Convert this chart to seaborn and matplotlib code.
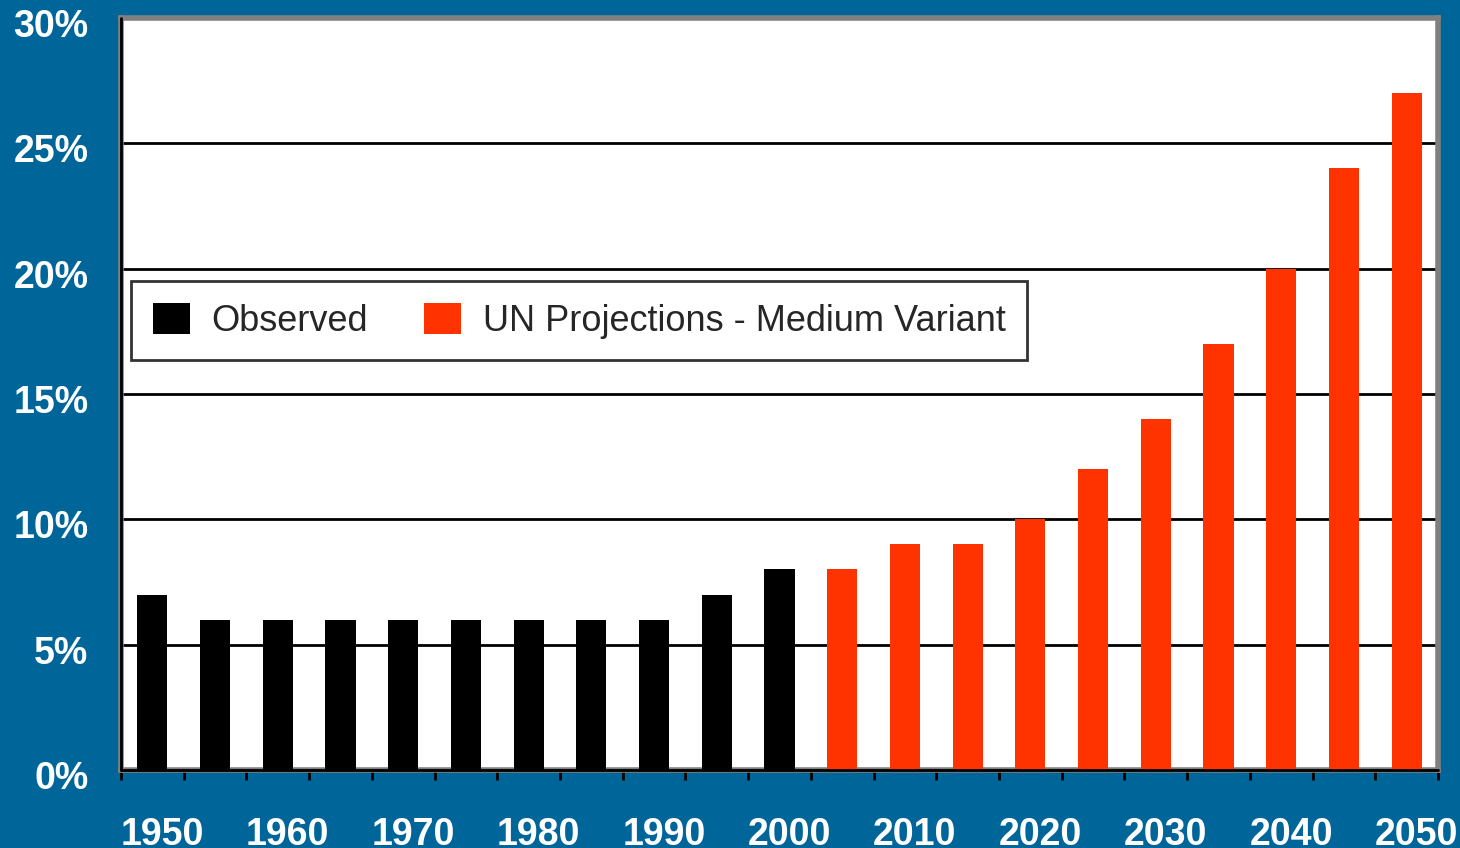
import matplotlib
matplotlib.use("Agg")
import matplotlib.pyplot as plt
import matplotlib.patches as mpatches
import matplotlib.transforms as mtrans
import seaborn as sns
import pandas as pd
import numpy as np

years = [1950, 1955, 1960, 1965, 1970, 1975, 1980, 1985, 1990, 1995, 2000,
         2005, 2010, 2015, 2020, 2025, 2030, 2035, 2040, 2045, 2050]
values = [7, 6, 6, 6, 6, 6, 6, 6, 6, 7, 8,
          8, 9, 9, 10, 12, 14, 17, 20, 24, 27]
series = ["Observed"] * 11 + ["UN Projections - Medium Variant"] * 10
series_names = ["Observed", "UN Projections - Medium Variant"]
series_colors = ["#000000", "#FF3300"]
ytick_vals = [0, 5, 10, 15, 20, 25, 30]
xtick_labels = ["1950", "1960", "1970", "1980", "1990", "2000",
                "2010", "2020", "2030", "2040", "2050"]

BG = "#006699"

sns.set_style("white")
plt.rcParams['font.family'] = ['Liberation Sans', 'DejaVu Sans']

df = pd.DataFrame({"year": [str(y) for y in years], "value": values, "series": series})

fig = plt.figure(figsize=(14.6, 8.48), dpi=100, facecolor=BG)
ax = fig.add_axes([121 / 1460, 1 - 770 / 848, (1438 - 121) / 1460, (770 - 18) / 848])
ax.set_facecolor("white")

sns.barplot(data=df, x="year", y="value", hue="series",
            palette=dict(zip(series_names, series_colors)),
            dodge=False, width=0.48, ax=ax, legend=False, zorder=3,
            saturation=1, edgecolor="none", linewidth=0)

ax.set_xlim(-0.5, len(years) - 0.5)
ax.set_ylim(0, 30)
ax.set_xlabel("")
ax.set_ylabel("")

# grid
ax.set_yticks(ytick_vals)
ax.set_yticklabels([f"{v}%" for v in ytick_vals])
for v in ytick_vals[1:-1]:
    ax.axhline(v, color="black", lw=2, zorder=1)

# x ticks: labels every 10 years, tick marks at boundaries
ax.set_xticks([i for i, y in enumerate(years) if y % 10 == 0])
ax.set_xticklabels(xtick_labels)
ax.set_xticks(np.arange(-0.5, len(years), 1.0), minor=True)
ax.tick_params(axis="x", which="major", length=0, pad=34, colors="white",
               labelsize=27)
ax.tick_params(axis="x", which="minor", length=7.5, width=2, color="black",
               direction="out", bottom=True)
for lbl in ax.get_xticklabels():
    lbl.set_fontweight("bold")
    lbl.set_transform(lbl.get_transform() +
                      mtrans.ScaledTranslation(10 / 100, 0, fig.dpi_scale_trans))
ax.tick_params(axis="y", which="major", length=9.5, width=2, color="black",
               pad=14, labelcolor="white", labelsize=27, direction="out")
for lbl in ax.get_yticklabels():
    lbl.set_fontweight("bold")
    lbl.set_transform(lbl.get_transform() +
                      mtrans.ScaledTranslation(0, -5 / 100, fig.dpi_scale_trans))

# frame
for s in ax.spines.values():
    s.set_visible(True)
    s.set_color("#808080")
    s.set_linewidth(4)
ax.axhline(0, color="black", lw=2, zorder=4, clip_on=False)
ax.axvline(-0.5, color="black", lw=2, zorder=4, clip_on=False)

# legend
handles = [mpatches.Patch(facecolor=c, edgecolor="none", label=n)
           for n, c in zip(series_names, series_colors)]
leg = ax.legend(handles=handles, ncol=2, loc="upper left",
                bbox_to_anchor=(131 / 1460, 1 - 281 / 848),
                bbox_transform=fig.transFigure,
                frameon=True, fancybox=False, edgecolor="black",
                prop={"family": ["Liberation Sans Narrow", "Liberation Sans"], "size": 26},
                handlelength=1.03, handleheight=0.95, handletextpad=0.6,
                columnspacing=1.55, borderpad=0.6, borderaxespad=0)
leg.get_frame().set_linewidth(2)
leg.set_zorder(10)

fig.savefig("out.png", dpi=100, facecolor=BG)
